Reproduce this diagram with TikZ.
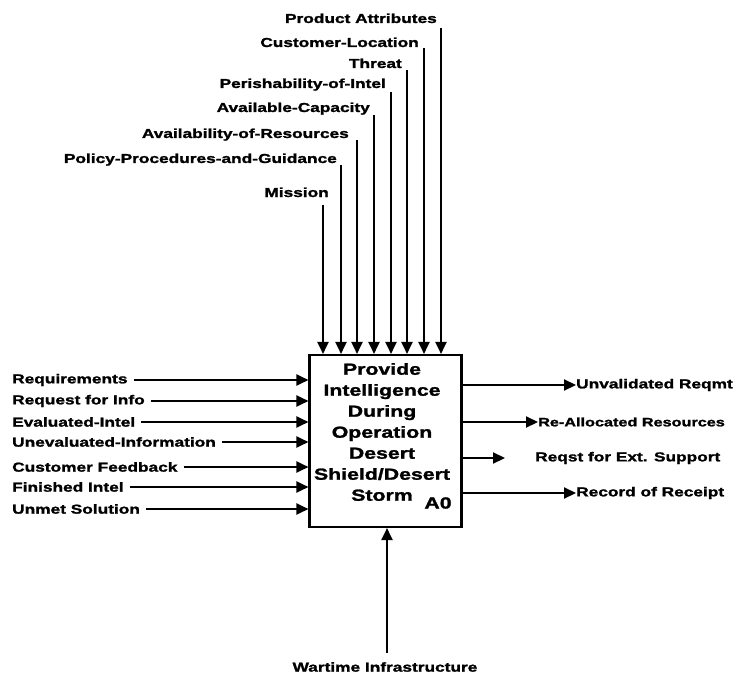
\documentclass[tikz,border=0pt]{standalone}
\usepackage{fontspec}
\newfontfamily\labfont{Liberation Sans Bold}[FakeStretch=1.33, RawFeature={embolden=1.6}]
\usetikzlibrary{arrows.meta}
\begin{document}
\begin{tikzpicture}[x=1pt,y=-1pt,
  lbl/.style={font=\labfont\fontsize{13}{15}\selectfont, inner sep=0pt},
  inlbl/.style={lbl, anchor=west},
  arr/.style={line width=2.1pt, -{Triangle[length=12pt,width=11pt]}},
  boxst/.style={draw, line width=2.1pt, minimum width=152pt, minimum height=172pt, inner sep=0pt},
  boxtxt/.style={font=\labfont\fontsize{16}{21}\selectfont, align=center, inner sep=0pt}]
\useasboundingbox (0,0) rectangle (735,676);
% main box
\node[boxst] (box) at (385.5,441) {};
\node[boxtxt] (bt) at (382,432) {Provide\\Intelligence\\During\\Operation\\Desert\\Shield/Desert\\Storm};
\node[boxtxt, anchor=center] (a0) at (438,503) {A0};
% controls (top)
\foreach \n/\t/\tx/\bl/\lx/\lt in {
  c1/Product Attributes/437/23/441/28,
  c2/Customer-Location/419/47/424/48,
  c3/Threat/402/68/407/70,
  c4/Perishability-of-Intel/386/88/391/92,
  c5/Available-Capacity/370/112/374/115,
  c6/Availability-of-Resources/349/138/357/140,
  c7/Policy-Procedures-and-Guidance/337/163/341/165,
  c8/Mission/329/197/323/205}{
  \node[lbl, anchor=base east] (\n) at (\tx,\bl) {\t};
  \coordinate (\n l) at (\lx,\lt);
  \draw[arr] (\n l) -- (\n l |- box.north);
}
% inputs (left)
\foreach \n/\t/\y in {
  i1/Requirements/380,
  i2/Request for Info/401,
  i3/Evaluated-Intel/422,
  i4/Unevaluated-Information/442,
  i5/Customer Feedback/467,
  i6/Finished Intel/487,
  i7/Unmet Solution/509}{
  \node[inlbl] (\n) at (12,\y) {\t};
  \draw[arr] ([xshift=6pt]\n.east) -- (\n.east -| box.west);
}
% outputs (right)
\node[inlbl] (o1) at (576,385) {Unvalidated Reqmt};
\node[inlbl, font=\labfont\fontsize{12.2}{15}\selectfont] (o2) at (538,422) {Re-Allocated Resources};
\node[inlbl] (o3) at (535,458) {Reqst for Ext. Support};
\node[inlbl] (o4) at (576,493) {Record of Receipt};
\coordinate (o3t) at (505,458);
\draw[arr] (box.east |- o1) -- (o1.west);
\draw[arr] (box.east |- o2) -- (o2.west);
\draw[arr] (box.east |- o3t) -- (o3t);
\draw[arr] (box.east |- o4) -- (o4.west);
% mechanism (bottom)
\node[lbl] (m1) at (385,667) {Wartime Infrastructure};
\coordinate (m1l) at (387,653);
\draw[arr] (m1l) -- (m1l |- box.south);
\end{tikzpicture}
\end{document}
